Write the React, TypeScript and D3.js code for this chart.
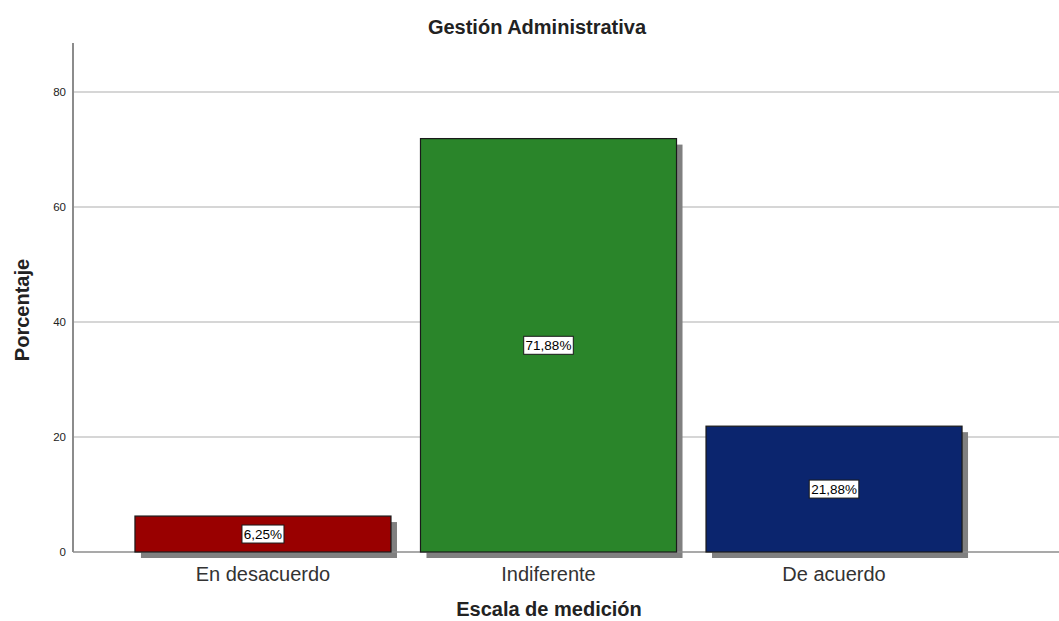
import React from 'react';
import * as d3 from 'd3';

// Chart data
const categories = ['En desacuerdo', 'Indiferente', 'De acuerdo'];
const percentages = [6.25, 71.88, 21.88];
const barColors = ['#990000', '#2a852a', '#0b256e'];
const yTicks = [0, 20, 40, 60, 80];

const title = 'Gestión Administrativa';
const xTitle = 'Escala de medición';
const yTitle = 'Porcentaje';

const App = () => {
  const width = 1059;
  const height = 621;
  const plotLeft = 73;
  const plotRight = 1059;
  const baseY = 552;
  const topY = 43;

  const yScale = d3.scaleLinear().domain([0, 88.5]).range([baseY, topY]);
  const xScale = d3.scaleBand<string>()
    .domain(categories)
    .range([plotLeft, 1024])
    .paddingInner(0.1033)
    .paddingOuter(0.217);

  const fmt = (v: number) => v.toFixed(2).replace('.', ',') + '%';
  const font = '"Liberation Sans", Arial, sans-serif';

  return (
    <svg width={width} height={height} style={{ position: 'absolute', left: 0, top: 0, fontFamily: font }}>
      <rect width={width} height={height} fill="#fff" />
      {/* gridlines */}
      {yTicks.filter(t => t > 0).map(t => (
        <line key={t} x1={plotLeft} x2={plotRight} y1={yScale(t)} y2={yScale(t)} stroke="#c8c8c8" strokeWidth={1.5} />
      ))}
      {/* y axis */}
      <line x1={plotLeft} x2={plotLeft} y1={topY} y2={baseY} stroke="#8c8c8c" strokeWidth={2} />
      {yTicks.map(t => (
        <text key={t} x={plotLeft - 7} y={yScale(t)} dy="0.35em" textAnchor="end" fontSize={11.5} fill="#222">{t}</text>
      ))}
      {/* shadows */}
      {categories.map((c, i) => {
        const x = xScale(c)!;
        const w = xScale.bandwidth();
        const y = yScale(percentages[i]);
        const h = baseY - y;
        return <rect key={c} x={x + 6} y={y + 6} width={w} height={h} fill="#808080" />;
      })}
      <line x1={plotLeft} x2={plotRight} y1={baseY} y2={baseY} stroke="#8c8c8c" strokeWidth={1.5} />
      {categories.map((c, i) => {
        const x = xScale(c)!;
        const w = xScale.bandwidth();
        const y = yScale(percentages[i]);
        const h = baseY - y;
        const label = fmt(percentages[i]);
        const lw = label.length * 7.6 + 4;
        const cx = x + w / 2;
        const cy = y + h / 2;
        return (
          <g key={c}>
            <rect x={x} y={y} width={w} height={h} fill={barColors[i]} stroke="#1a1a1a" strokeWidth={1.2} />
            <rect x={cx - lw / 2} y={cy - 9} width={lw} height={18} fill="#fff" stroke="#1a1a1a" strokeWidth={1} />
            <text x={cx} y={cy} dy="0.36em" textAnchor="middle" fontSize={13.5} fill="#000">{label}</text>
            <text x={cx} y={581} textAnchor="middle" fontSize={20} fill="#333">{c}</text>
          </g>
        );
      })}
      {/* titles */}
      <text x={537} y={34} textAnchor="middle" fontSize={20} fontWeight="bold" fill="#222">{title}</text>
      <text x={549} y={616} textAnchor="middle" fontSize={20} fontWeight="bold" fill="#222">{xTitle}</text>
      <text transform={`translate(29,${310}) rotate(-90)`} textAnchor="middle" fontSize={20} fontWeight="bold" fill="#222">{yTitle}</text>
    </svg>
  );
};

export default App;
